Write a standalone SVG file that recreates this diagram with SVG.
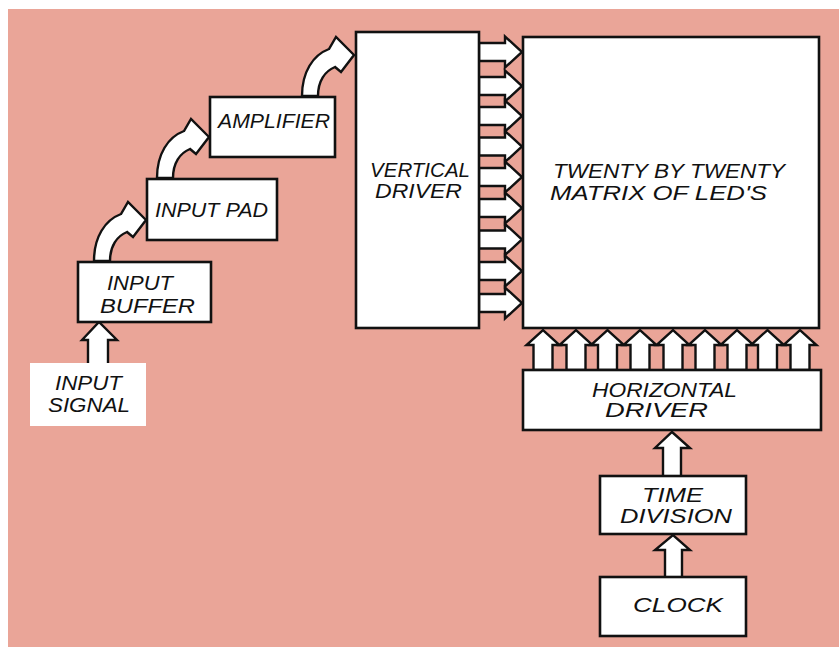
<svg xmlns="http://www.w3.org/2000/svg" width="839" height="647" viewBox="0 0 839 647">
<style>
.box{fill:#fff;stroke:#111;stroke-width:2.6}
.arr{fill:#fff;stroke:#111;stroke-width:2.4;stroke-linejoin:miter}
.lbl{font-family:"Liberation Sans","DejaVu Sans",sans-serif;font-style:italic;font-size:20px;fill:#111;text-anchor:middle}
</style>
<defs>
<path id="curve" d="M0,0 C0,-24 11,-41 27,-47 L34,-59 L52,-41 L39,-24 L33,-29 C23,-25 16,-15 16,0 Z"/>
<path id="hr" d="M0,-9 L26,-9 L26,-15.5 L43,0 L26,15.5 L26,9 L0,9 Z"/>
<path id="up" d="M-9.5,40 L-9.5,15 L-16.5,15 L0,0 L16.5,15 L9.5,15 L9.5,40 Z"/>
</defs>
<rect x="0" y="0" width="839" height="647" fill="#fff"/>
<rect x="8" y="9" width="831" height="638" fill="#eaa598"/>

<g id="connectors">
  <path class="arr" d="M88,363 L88,340 L82,340 L99,322 L117,340 L108,340 L108,363"/>
  <use href="#curve" class="arr" x="94" y="261"/>
  <use href="#curve" class="arr" x="157" y="178"/>
  <use href="#curve" class="arr" x="302" y="96"/>
  <g id="vd-arrows">
    <use href="#hr" class="arr" x="479" y="52"/>
    <use href="#hr" class="arr" x="479" y="86"/>
    <use href="#hr" class="arr" x="479" y="116"/>
    <use href="#hr" class="arr" x="479" y="146.5"/>
    <use href="#hr" class="arr" x="479" y="177"/>
    <use href="#hr" class="arr" x="479" y="208"/>
    <use href="#hr" class="arr" x="479" y="239.5"/>
    <use href="#hr" class="arr" x="479" y="271"/>
    <use href="#hr" class="arr" x="479" y="303"/>
  </g>
  <g id="hd-arrows">
    <use href="#up" class="arr" x="543" y="330"/>
    <use href="#up" class="arr" x="576" y="330"/>
    <use href="#up" class="arr" x="607.5" y="330"/>
    <use href="#up" class="arr" x="640" y="330"/>
    <use href="#up" class="arr" x="673" y="330"/>
    <use href="#up" class="arr" x="705" y="330"/>
    <use href="#up" class="arr" x="737" y="330"/>
    <use href="#up" class="arr" x="767.5" y="330"/>
    <use href="#up" class="arr" x="800" y="330"/>
  </g>
  <path class="arr" d="M663,476 L663,448 L655,448 L672,432 L690,448 L681,448 L681,476"/>
  <path class="arr" d="M665,577 L665,550 L655,550 L673,535 L690,550 L682,550 L682,577"/>
</g>

<g id="input-signal">
  <rect x="30" y="363" width="116" height="63" fill="#fff"/>
  <text class="lbl" x="88.5" y="390" textLength="67" lengthAdjust="spacingAndGlyphs">INPUT</text>
  <text class="lbl" x="89" y="412" textLength="82" lengthAdjust="spacingAndGlyphs">SIGNAL</text>
</g>
<g id="input-buffer">
  <rect class="box" x="78" y="262" width="133" height="60"/>
  <text class="lbl" x="140" y="290" textLength="66" lengthAdjust="spacingAndGlyphs">INPUT</text>
  <text class="lbl" x="147.5" y="313" textLength="95" lengthAdjust="spacingAndGlyphs">BUFFER</text>
</g>
<g id="input-pad">
  <rect class="box" x="147" y="179" width="130" height="61"/>
  <text class="lbl" x="211.5" y="217" textLength="113" lengthAdjust="spacingAndGlyphs">INPUT PAD</text>
</g>
<g id="amplifier">
  <rect class="box" x="210" y="97" width="125" height="60"/>
  <text class="lbl" x="274" y="128" textLength="112" lengthAdjust="spacingAndGlyphs">AMPLIFIER</text>
</g>
<g id="vertical-driver">
  <rect class="box" x="356" y="32" width="123" height="296"/>
  <text class="lbl" x="420" y="177" textLength="100" lengthAdjust="spacingAndGlyphs">VERTICAL</text>
  <text class="lbl" x="418.5" y="198" textLength="87" lengthAdjust="spacingAndGlyphs">DRIVER</text>
</g>
<g id="led-matrix">
  <rect class="box" x="523" y="37" width="296" height="291"/>
  <text class="lbl" x="669" y="178" textLength="232" lengthAdjust="spacingAndGlyphs">TWENTY BY TWENTY</text>
  <text class="lbl" x="658.5" y="200" textLength="217" lengthAdjust="spacingAndGlyphs">MATRIX OF LED'S</text>
</g>
<g id="horizontal-driver">
  <rect class="box" x="523" y="370" width="298" height="60"/>
  <text class="lbl" x="664.5" y="397" textLength="145" lengthAdjust="spacingAndGlyphs">HORIZONTAL</text>
  <text class="lbl" x="656.5" y="417" textLength="103" lengthAdjust="spacingAndGlyphs">DRIVER</text>
</g>
<g id="time-division">
  <rect class="box" x="600" y="476" width="146" height="58"/>
  <text class="lbl" x="672.5" y="502" textLength="61" lengthAdjust="spacingAndGlyphs">TIME</text>
  <text class="lbl" x="676" y="523" textLength="112" lengthAdjust="spacingAndGlyphs">DIVISION</text>
</g>
<g id="clock">
  <rect class="box" x="600" y="577" width="146" height="59"/>
  <text class="lbl" x="678" y="612" textLength="90" lengthAdjust="spacingAndGlyphs">CLOCK</text>
</g>
</svg>
